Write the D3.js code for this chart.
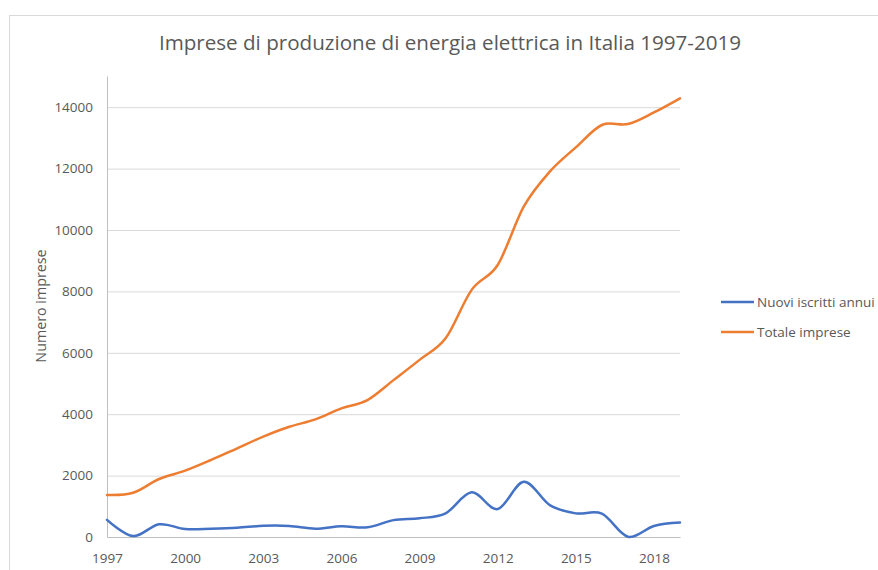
<!DOCTYPE html>
<html>
<head>
<meta charset="utf-8">
<script src="https://cdn.jsdelivr.net/npm/d3@7"></script>
<style>
  body { margin: 0; background: #fff; }
  text { font-family: "Open Sans", sans-serif; fill: #595959; }
</style>
</head>
<body>
<script>
// Chart size
const w = 878;
const h = 570;

// Data
const years = [1997, 1998, 1999, 2000, 2001, 2002, 2003, 2004, 2005, 2006, 2007, 2008,
  2009, 2010, 2011, 2012, 2013, 2014, 2015, 2016, 2017, 2018, 2019];
const nuoviIscritti = [560, 30, 415, 260, 270, 300, 365, 360, 270, 350, 315, 550,
  610, 770, 1455, 910, 1800, 1040, 770, 760, 10, 360, 470];
const totaleImprese = [1370, 1440, 1890, 2160, 2510, 2890, 3270, 3590, 3830, 4190, 4460, 5110,
  5770, 6470, 8050, 8860, 10760, 11900, 12690, 13420, 13450, 13830, 14290];
const yTicks = [0, 2000, 4000, 6000, 8000, 10000, 12000, 14000];
const xTicks = [1997, 2000, 2003, 2006, 2009, 2012, 2015, 2018];
const seriesNames = ["Nuovi iscritti annui", "Totale imprese"];
const colors = ["#4472c4", "#ed7d31"];

const svg = d3.select("body").append("svg").attr("width", w).attr("height", h);

// chart area border
svg.append("rect")
  .attr("x", 9.5).attr("y", 15.5)
  .attr("width", w + 10).attr("height", h)
  .attr("fill", "none").attr("stroke", "#d9d9d9");

const x = d3.scaleLinear().domain([1997, 2019]).range([107, 680]);
const y = d3.scaleLinear().domain([0, 15000]).range([537, 76.5]);

// gridlines + y tick labels
svg.append("g")
  .attr("transform", "translate(107,0)")
  .call(d3.axisLeft(y).tickValues(yTicks).tickSize(-573).tickFormat(d => d).tickPadding(14))
  .call(g => g.select(".domain").remove())
  .call(g => g.selectAll(".tick line").attr("stroke", "#d9d9d9"))
  .call(g => g.selectAll(".tick text").attr("font-size", 13.5).style("fill", "#595959")
    .attr("font-family", "'Open Sans', sans-serif"));

// left axis line
svg.append("line")
  .attr("x1", 107.5).attr("x2", 107.5)
  .attr("y1", y(15000)).attr("y2", y(0))
  .attr("stroke", "#bfbfbf");

// bottom axis
svg.append("g")
  .attr("transform", "translate(0," + y(0) + ")")
  .call(d3.axisBottom(x).tickValues(xTicks).tickSize(0).tickFormat(d => d).tickPadding(16))
  .call(g => g.select(".domain").attr("stroke", "#bfbfbf"))
  .call(g => g.selectAll(".tick text").attr("font-size", 13.5).style("fill", "#595959")
    .attr("font-family", "'Open Sans', sans-serif"));

// lines
const line = d3.line()
  .x((d, i) => x(years[i]))
  .y(d => y(d))
  .curve(d3.curveCardinal.tension(0));

[nuoviIscritti, totaleImprese].forEach(function (s, k) {
  svg.append("path")
    .attr("d", line(s))
    .attr("fill", "none")
    .attr("stroke", colors[k])
    .attr("stroke-width", 2.5)
    .attr("stroke-linecap", "round");
});

// title
svg.append("text")
  .attr("x", 450).attr("y", 50)
  .attr("text-anchor", "middle")
  .attr("font-size", 20.6)
  .text("Imprese di produzione di energia elettrica in Italia 1997-2019");

// y axis title
svg.append("text")
  .attr("transform", "translate(46,306) rotate(-90)")
  .attr("text-anchor", "middle")
  .attr("font-size", 14.3)
  .text("Numero imprese");

// legend
const legend = svg.append("g")
  .selectAll("g")
  .data(seriesNames)
  .enter()
  .append("g")
  .attr("transform", function (d, i) {
    return "translate(721," + (302 + i * 30) + ")";
  });
legend.append("line")
  .attr("x1", 0).attr("x2", 33)
  .attr("stroke", (d, i) => colors[i])
  .attr("stroke-width", 2.5);
legend.append("text")
  .attr("x", 36).attr("y", 4.5)
  .attr("font-size", 13.5)
  .text(d => d);
</script>
</body>
</html>
